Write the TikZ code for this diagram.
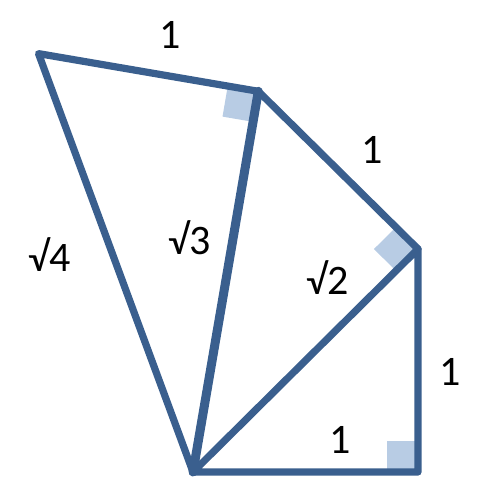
\documentclass[tikz,border=0pt]{standalone}
\usepackage{fontspec}
\setmainfont{Carlito}
\usetikzlibrary{calc}
\definecolor{edgeblue}{HTML}{3A5F8E}
\definecolor{markblue}{HTML}{B8CCE4}
\tikzset{
  edge/.style={draw=edgeblue, line width=7.2pt, line join=round, line cap=round},
  thickedge/.style={draw=edgeblue, line width=9pt, line cap=round},
  rightmark/.style={fill=markblue, draw=none},
  lbl/.style={font=\fontsize{42}{48}\selectfont, text=black, inner sep=0pt}
}
\begin{document}
\begin{tikzpicture}[x=1pt, y=-1pt]
\useasboundingbox (0,0) rectangle (491,480);
\coordinate (O) at (193,472);
\coordinate (A) at (418,472);
\coordinate (B) at (418,249);
\coordinate (C) at (258.3,91.3);
\coordinate (D) at (38.5,53.6);
% right-angle markers
\coordinate (Au) at ($(A)!31pt!(O)$);
\coordinate (Av) at ($(A)!31pt!(B)$);
\fill[rightmark] (A) -- (Au) -- ($(Au)+(Av)-(A)$) -- (Av) -- cycle;
\coordinate (Bu) at ($(B)!31pt!(O)$);
\coordinate (Bv) at ($(B)!31pt!(C)$);
\fill[rightmark] (B) -- (Bu) -- ($(Bu)+(Bv)-(B)$) -- (Bv) -- cycle;
\coordinate (Cu) at ($(C)!31pt!(O)$);
\coordinate (Cv) at ($(C)!31pt!(D)$);
\fill[rightmark] (C) -- (Cu) -- ($(Cu)+(Cv)-(C)$) -- (Cv) -- cycle;
% edges
\draw[edge] (O) -- (A) -- (B) -- cycle;
\draw[edge] (B) -- (C) -- (D) -- (O);
\draw[thickedge] (O) -- (C);
% labels
\node[lbl] (l1) at (170,35) {1};
\node[lbl] (l2) at (372,150) {1};
\node[lbl] (l3) at (50,255) {√4};
\node[lbl] (l4) at (190,238) {√3};
\node[lbl] (l5) at (328,278) {√2};
\node[lbl] (l6) at (450,372) {1};
\node[lbl] (l7) at (340,440) {1};
\end{tikzpicture}
\end{document}
